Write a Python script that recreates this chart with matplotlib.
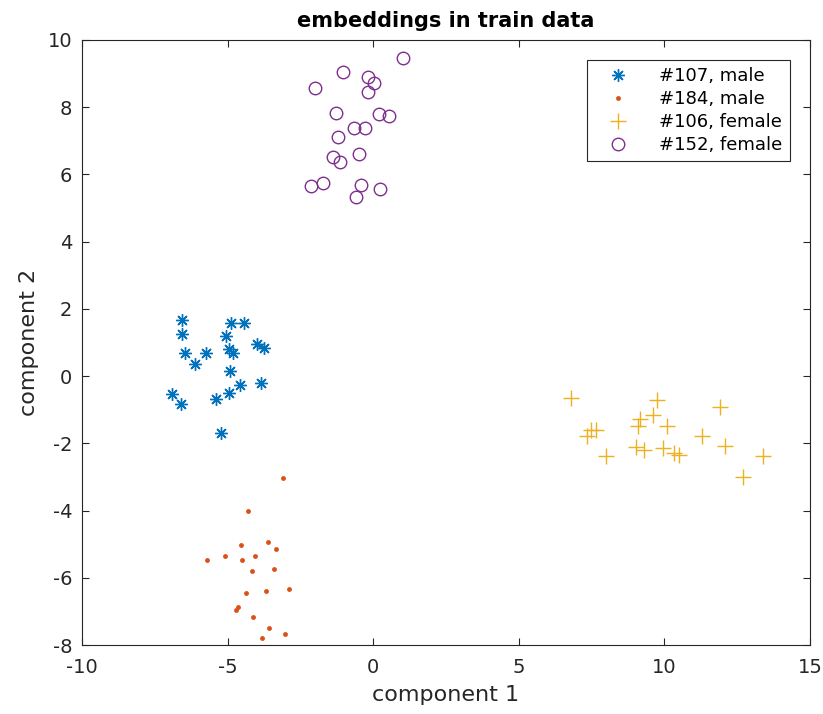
import matplotlib
matplotlib.use("Agg")
import matplotlib.pyplot as plt

# speaker #107, male
x107 = [-6.58, -6.58, -6.47, -5.75, -6.12, -4.88, -4.43, -5.06, -4.95, -4.81,
        -3.98, -3.74, -4.92, -4.57, -4.94, -3.84, -6.92, -6.61, -5.40, -5.24]
y107 = [1.67, 1.24, 0.70, 0.70, 0.36, 1.59, 1.59, 1.19, 0.80, 0.68,
        0.95, 0.84, 0.16, -0.27, -0.50, -0.20, -0.54, -0.83, -0.69, -1.69]

# speaker #184, male
x184 = [-3.09, -4.29, -4.54, -3.60, -3.33, -5.72, -5.09, -4.52, -4.06, -4.16,
        -3.41, -4.36, -3.68, -2.90, -4.71, -4.14, -3.57, -3.80, -3.03, -4.65]
y184 = [-3.03, -4.02, -5.01, -4.93, -5.14, -5.48, -5.36, -5.48, -5.35, -5.80,
        -5.75, -6.45, -6.38, -6.33, -6.95, -7.16, -7.50, -7.80, -7.68, -6.88]

# speaker #106, female
x106 = [6.81, 9.76, 11.90, 9.60, 9.18, 9.10, 10.10, 7.50, 7.67, 7.35,
        11.28, 9.04, 9.30, 9.95, 10.35, 10.49, 12.08, 8.00, 13.39, 12.72]
y106 = [-0.66, -0.71, -0.91, -1.16, -1.29, -1.49, -1.49, -1.61, -1.61, -1.79,
        -1.79, -2.11, -2.20, -2.13, -2.28, -2.35, -2.08, -2.37, -2.38, -3.00]

# speaker #152, female
x152 = [1.01, -1.02, -0.18, 0.03, -0.17, -1.99, -1.28, 0.21, 0.55, -0.64,
        -0.28, -1.19, -0.48, -1.37, -1.14, -2.12, -1.72, -0.42, 0.24, -0.60]
y152 = [9.45, 9.06, 8.91, 8.71, 8.46, 8.58, 7.83, 7.81, 7.75, 7.37,
        7.37, 7.12, 6.61, 6.51, 6.36, 5.65, 5.75, 5.70, 5.58, 5.33]

labels = ["#107, male", "#184, male", "#106, female", "#152, female"]

plt.rcParams['font.family'] = ['DejaVu Sans']
plt.rcParams['axes.unicode_minus'] = False

fig = plt.figure(figsize=(8.23, 7.14), dpi=100)
ax = fig.add_axes([0.0996, 0.0966, 0.8844, 0.8474])

ax.plot(x107, y107, linestyle="none", marker=(8, 2, 0), ms=9, mew=1.0,
        color="#0072BD", label=labels[0])
ax.plot(x184, y184, linestyle="none", marker="o", ms=3.5, mew=0,
        color="#D95319", label=labels[1])
ax.plot(x106, y106, linestyle="none", marker="+", ms=11, mew=1.0,
        color="#EDB120", label=labels[2])
ax.plot(x152, y152, linestyle="none", marker="o", ms=9, mew=1.0,
        markerfacecolor="none", color="#7E2F8E", label=labels[3])

ax.set_xlim(-10, 15)
ax.set_ylim(-8, 10)
ax.set_xticks(range(-10, 16, 5))
ax.set_yticks(range(-8, 11, 2))
ax.tick_params(direction="in", top=True, right=True, labelsize=14,
               length=5, width=0.8, colors="#262626")
ax.tick_params(axis="x", pad=9)
ax.tick_params(axis="y", pad=7)
for s in ax.spines.values():
    s.set_color("#262626")
    s.set_linewidth(0.8)

ax.set_xlabel("component 1", fontsize=16, color="#262626", labelpad=6)
ax.set_ylabel("component 2", fontsize=16, color="#262626", labelpad=6)
ax.set_title("embeddings in train data", fontsize=15, fontweight="bold", pad=9)

leg = ax.legend(loc="upper right", fontsize=13, fancybox=False, framealpha=1,
                edgecolor="#262626", borderaxespad=1.1, handletextpad=1.0,
                labelspacing=0.28, borderpad=0.4, handlelength=2.6)
leg.get_frame().set_linewidth(0.8)

fig.savefig("out.png", dpi=100)
